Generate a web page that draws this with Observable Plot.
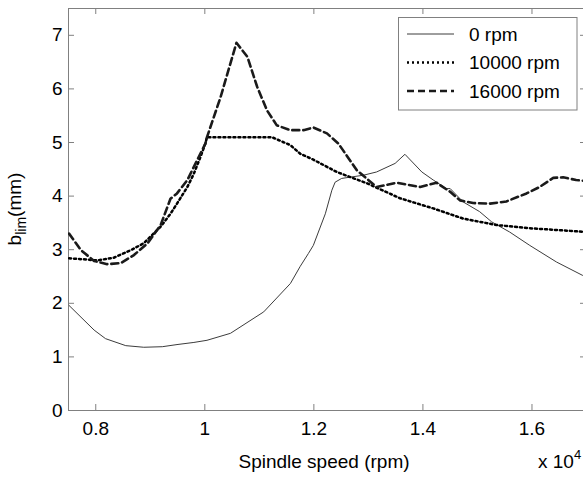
<!DOCTYPE html>
<html><head><meta charset="utf-8">
<script src="https://cdn.jsdelivr.net/npm/d3@7"></script>
<script src="https://cdn.jsdelivr.net/npm/@observablehq/plot@0.6"></script>
<style>
body{margin:0;background:#fff;}
#chart{position:relative;width:583px;height:477px;overflow:hidden;background:#fff;}
</style></head><body><div id="chart"></div>
<script>
const seriesNames = ["0 rpm", "10000 rpm", "16000 rpm"];

const speed0 = [7510,7970,8180,8550,8880,9220,9490,9800,10040,10470,11080,11570,11750,11900,11990,12210,12330,12390,12510,12910,13150,13490,13670,13980,14190,14430,14500,14740,15040,15260,15590,15960,16450,16930,17000];
const blim0  = [1.96,1.50,1.34,1.21,1.18,1.19,1.23,1.27,1.31,1.44,1.84,2.37,2.69,2.93,3.08,3.67,4.11,4.26,4.33,4.39,4.45,4.61,4.78,4.45,4.30,4.14,4.14,3.89,3.71,3.52,3.33,3.08,2.77,2.52,2.49];

const speed10k = [7510,7780,8030,8330,8640,8880,9190,9370,9490,9680,9800,9920,10010,10040,11230,11570,11750,11990,12420,12970,13580,14190,14740,15350,15960,16570,17000];
const blim10k  = [2.84,2.82,2.80,2.85,2.99,3.12,3.43,3.67,3.86,4.17,4.42,4.73,4.98,5.10,5.10,4.95,4.79,4.68,4.45,4.24,3.96,3.77,3.58,3.46,3.40,3.36,3.33];

const speed16k = [7510,7730,7970,8210,8460,8700,8950,9190,9370,9490,9680,9860,10010,10040,10290,10580,10780,10960,11140,11320,11570,11810,11990,12240,12450,12790,13150,13520,13950,14250,14500,14680,14920,15230,15530,15900,16140,16390,16570,16810,17000];
const blim16k  = [3.30,2.99,2.79,2.73,2.75,2.90,3.12,3.46,3.95,4.05,4.30,4.67,4.98,5.10,5.85,6.86,6.60,6.04,5.60,5.32,5.23,5.23,5.28,5.17,4.98,4.48,4.17,4.25,4.17,4.25,4.08,3.92,3.87,3.86,3.90,4.05,4.17,4.34,4.35,4.30,4.28];

const xTicks = [8000, 10000, 12000, 14000, 16000];
const xTickLabels = ["0.8", "1", "1.2", "1.4", "1.6"];
const yTicks = [0, 1, 2, 3, 4, 5, 6, 7];

const W = 583, H = 477;
const mL = 68, mR = -3, mT = 8, mB = 67;
const plotW = W - mL - mR, plotH = H - mT - mB;
const gray = "#808080";
const font = "'Liberation Sans', Arial, sans-serif";

const toRows = (name, xs, ys) => xs.map((x, i) => ({series: name, speed: x, blim: ys[i]}));
const rows0 = toRows(seriesNames[0], speed0, blim0);
const rows10k = toRows(seriesNames[1], speed10k, blim10k);
const rows16k = toRows(seriesNames[2], speed16k, blim16k);

const styles = [
  {stroke: "#3c3c3c", strokeWidth: 1, strokeDasharray: null},
  {stroke: "#000", strokeWidth: 2.5, strokeDasharray: "2,3"},
  {stroke: "#1a1a1a", strokeWidth: 2.6, strokeDasharray: "7,4"}
];

const plot = Plot.plot({
  width: W, height: H,
  marginLeft: mL, marginRight: mR, marginTop: mT, marginBottom: mB,
  x: {domain: [7500, 17000]},
  y: {domain: [0, 7.5]},
  style: {fontFamily: font, fontSize: "19px", color: "#000", background: "#fff"},
  marks: [
    Plot.frame({stroke: gray}),
    Plot.lineY(rows0, {x: "speed", y: "blim", clip: true, ...styles[0]}),
    Plot.lineY(rows10k, {x: "speed", y: "blim", clip: true, ...styles[1]}),
    Plot.lineY(rows16k, {x: "speed", y: "blim", clip: true, ...styles[2]}),
    Plot.tickX(xTicks, {x: d => d, insetTop: plotH - 6, stroke: gray}),
    Plot.tickX(xTicks, {x: d => d, insetBottom: plotH - 6, stroke: gray}),
    Plot.tickY(yTicks, {y: d => d, insetRight: plotW - 6, stroke: gray}),
    Plot.tickY(yTicks, {y: d => d, insetLeft: plotW - 6, stroke: gray}),
    Plot.axisX(xTicks, {anchor: "bottom", tickSize: 0, tickPadding: 11, label: null, fontSize: 19,
      tickFormat: d => xTickLabels[xTicks.indexOf(d)]}),
    Plot.axisY(yTicks, {anchor: "left", tickSize: 0, tickPadding: 6, label: null, fontSize: 19,
      tickFormat: d => String(d)})
  ]
});

const svg = d3.select(plot);

// y axis label
const yl = svg.append("text")
  .attr("transform", "translate(21,209) rotate(-90)")
  .attr("text-anchor", "middle")
  .attr("font-family", font).attr("font-size", 19).attr("fill", "#000");
yl.append("tspan").text("b");
yl.append("tspan").attr("dy", 5).attr("font-size", 14).text("lim");
yl.append("tspan").attr("dy", -5).text("(mm)");

// x axis label
svg.append("text")
  .attr("x", 324).attr("y", 467.5)
  .attr("text-anchor", "middle")
  .attr("font-family", font).attr("font-size", 19).attr("fill", "#000")
  .text("Spindle speed (rpm)");

const ex = svg.append("text")
  .attr("x", 538).attr("y", 467.5)
  .attr("text-anchor", "start")
  .attr("font-family", font).attr("font-size", 19).attr("fill", "#000");
ex.append("tspan").text("x 10");
ex.append("tspan").attr("dy", -9).attr("font-size", 13).text("4");

// legend
const lg = svg.append("g").attr("text-anchor", "start");
lg.append("rect").attr("x", 398.5).attr("y", 17.5).attr("width", 178.5).attr("height", 92.5)
  .attr("fill", "#fff").attr("stroke", gray);
const rowY = [34, 62.5, 91];
seriesNames.forEach((name, i) => {
  const s = styles[i];
  lg.append("line").attr("x1", 407).attr("x2", 454).attr("y1", rowY[i]).attr("y2", rowY[i])
    .attr("stroke", s.stroke).attr("stroke-width", s.strokeWidth)
    .attr("stroke-dasharray", s.strokeDasharray);
  lg.append("text").attr("x", 469).attr("y", rowY[i] + 6.7)
    .attr("text-anchor", "start")
    .attr("font-family", font).attr("font-size", 19).attr("fill", "#000").text(name);
});

document.getElementById("chart").appendChild(plot);
</script>
</body></html>
